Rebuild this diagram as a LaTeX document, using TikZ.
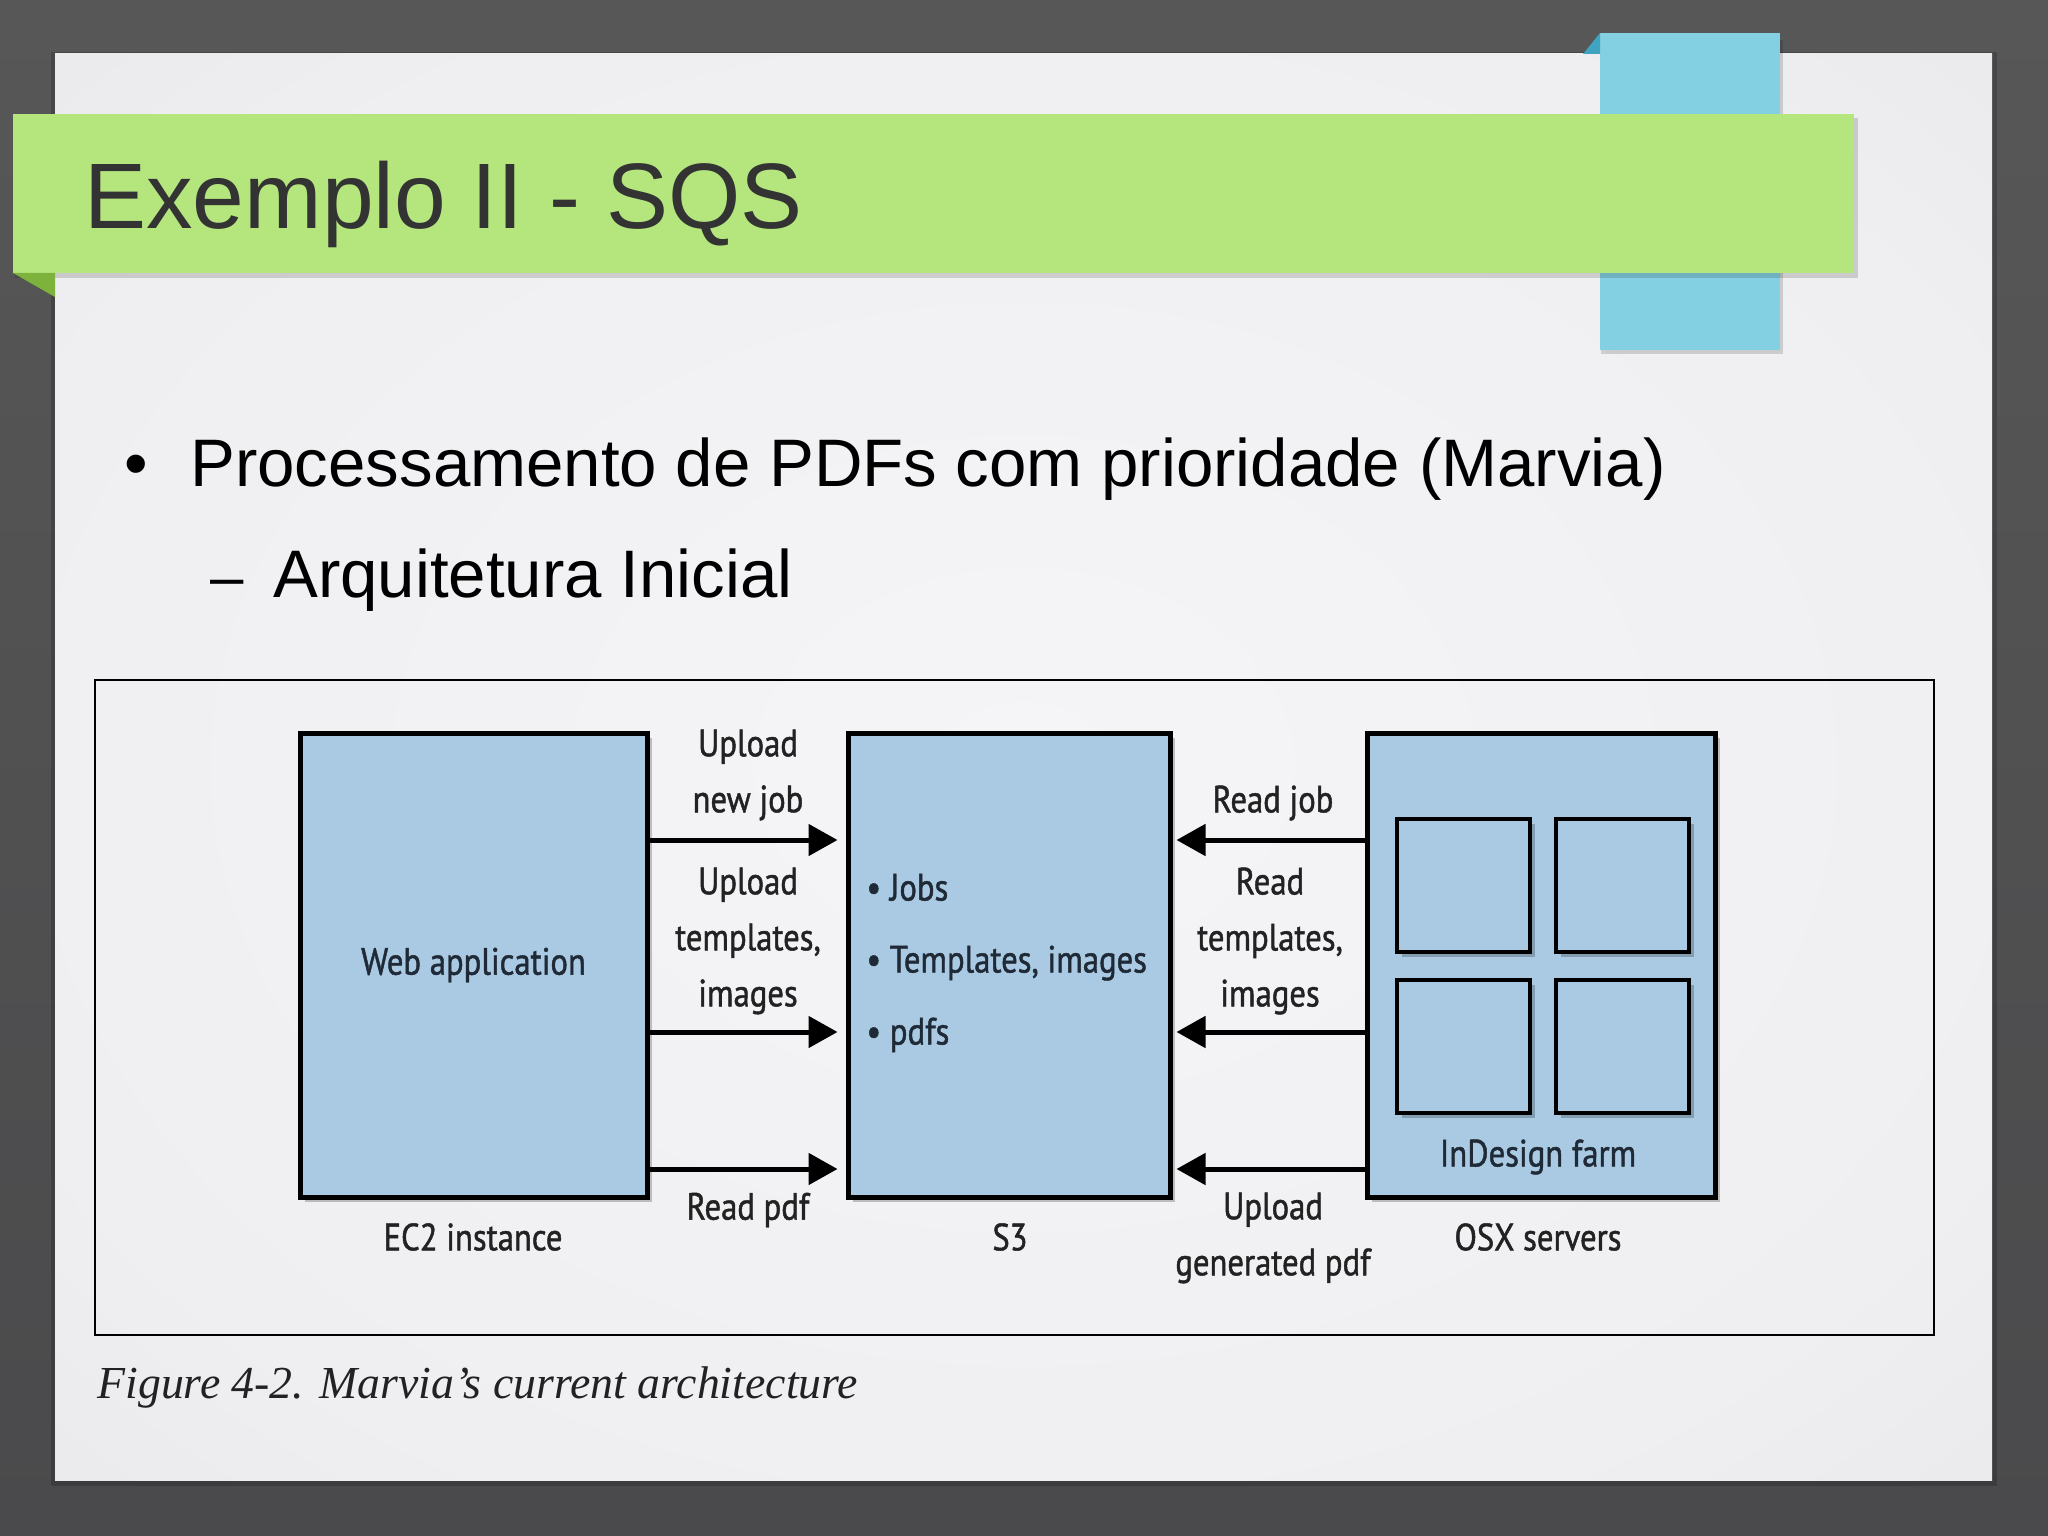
\documentclass[tikz,border=0pt]{standalone}
\usepackage{fontspec}
\setmainfont{Liberation Sans}
\newfontfamily\dfont[FakeStretch=0.86,FakeBold=1.2]{PT Sans}
\newfontfamily\capfont{Liberation Serif}
\usetikzlibrary{arrows.meta,shadows}
\definecolor{bgtop}{HTML}{575757}
\definecolor{bgbot}{HTML}{4A4A4C}
\definecolor{slc}{HTML}{F5F4F7}
\definecolor{slm}{HTML}{EFEEF1}
\definecolor{sle}{HTML}{E2E2E3}
\definecolor{bannergreen}{HTML}{B5E67E}
\definecolor{folddark}{HTML}{7DB23C}
\definecolor{tabblue}{HTML}{83D0E2}
\definecolor{tabdark}{HTML}{3FA4C0}
\definecolor{titlegray}{HTML}{333333}
\definecolor{boxblue}{HTML}{A9CAE2}
\definecolor{boxtext}{HTML}{1F2A36}
\definecolor{lbl}{HTML}{222222}
\pgfdeclareradialshading{slidebg}{\pgfpoint{0bp}{0bp}}{color(0bp)=(slc); color(28bp)=(slm); color(50bp)=(sle)}
\tikzset{
  box/.style={draw=black, line width=2.5pt, fill=boxblue, inner sep=0pt,
    drop shadow={shadow xshift=2.5pt, shadow yshift=-2.5pt, opacity=0.22, fill=black}},
  srv/.style={draw=black, line width=2pt, fill=boxblue, inner sep=0pt,
    minimum width=66.5pt, minimum height=66.5pt,
    drop shadow={shadow xshift=2.5pt, shadow yshift=-2.5pt, opacity=0.22, fill=black}},
  dtxt/.style={font=\dfont\fontsize{19pt}{28pt}\selectfont, text=lbl, align=center, inner sep=0pt},
  btxt/.style={font=\dfont\fontsize{19pt}{28pt}\selectfont, text=boxtext, align=center, inner sep=0pt},
  arr/.style={line width=2.5pt, draw=black, -{Triangle[length=14.5pt,width=15.5pt]}},
  slidetxt/.style={anchor=base west, inner sep=0pt, font=\fontsize{33.6pt}{40pt}\selectfont},
}
\begin{document}
\begin{tikzpicture}[x=0.5pt,y=-0.5pt]
\useasboundingbox (0,0) rectangle (2048,1535);
% outer background
\fill[top color=bgtop, bottom color=bgbot] (0,0) rectangle (2048,1535);
% slide
\fill[black, opacity=0.18] (51,52) rectangle (1997,1486);
\shade[shading=slidebg] (55,54) rectangle (1992,1480);
% blue tab
\fill[black, opacity=0.15] (1601,40) rectangle (1783,354);
\fill[tabblue] (1600,33) rectangle (1780,350);
\fill[tabdark] (1600,33) -- (1600,54) -- (1583,54) -- cycle;
% green banner
\fill[black, opacity=0.15] (15,118) rectangle (1858,278);
\fill[bannergreen] (13,114) rectangle (1854,273);
\fill[folddark] (13,273) -- (55,273) -- (55,297) -- cycle;
\node[anchor=base west, inner sep=0pt, text=titlegray,
  font=\fontsize{46.5pt}{56pt}\selectfont] (title) at (84,229) {Exemplo II - SQS};
% bullets
\node[slidetxt] (b1) at (124,486) {•};
\node[slidetxt] (t1) at (190,486) {Processamento de PDFs com prioridade (Marvia)};
\node[slidetxt, font=\fontsize{30pt}{36pt}\selectfont] (b2) at (210,597) {–};
\node[slidetxt] (t2) at (273,597) {Arquitetura Inicial};
% figure frame
\draw[line width=1pt] (95,680) rectangle (1934,1335);
\node[anchor=base west, inner sep=0pt, text=lbl,
  font=\capfont\itshape\fontsize{22.9pt}{27pt}\selectfont] (cap) at (97,1398)
  {Figure 4-2. Marvia’s current architecture};
% boxes
\node[box, minimum width=173.5pt, minimum height=232pt, btxt] (web) at (473.5,965) {Web application};
\node[box, minimum width=161pt, minimum height=232pt] (s3) at (1009,965) {};
\node[box, minimum width=174pt, minimum height=232pt] (osx) at (1541,965) {};
\node[srv] (q1) at (1463.5,885.5) {};
\node[srv] (q2) at (1622.5,885.5) {};
\node[srv] (q3) at (1463.5,1046) {};
\node[srv] (q4) at (1622.5,1046) {};
\node[btxt, align=left, anchor=west, font=\dfont\fontsize{19pt}{36pt}\selectfont] (list) at (866,963)
  {• Jobs\\ • Templates, images\\ • pdfs};
\node[btxt] (farm) at (1538,1157) {InDesign farm};
% captions under boxes
\node[dtxt] (ec2) at (473,1237) {EC2 instance};
\node[dtxt] (s3l) at (1010,1237) {S3};
\node[dtxt] (osxl) at (1538,1237) {OSX servers};
% arrows
\coordinate (r1) at (0,840);
\coordinate (r2) at (0,1032);
\coordinate (r3) at (0,1169);
\draw[arr, shorten >=4pt] (web.east |- r1) -- (s3.west |- r1);
\draw[arr, shorten >=4pt] (web.east |- r2) -- (s3.west |- r2);
\draw[arr, shorten >=4pt] (web.east |- r3) -- (s3.west |- r3);
\draw[arr, shorten >=2pt] (osx.west |- r1) -- (s3.east |- r1);
\draw[arr, shorten >=2pt] (osx.west |- r2) -- (s3.east |- r2);
\draw[arr, shorten >=2pt] (osx.west |- r3) -- (s3.east |- r3);
% arrow labels
\node[dtxt] (l1) at (748,775) {Upload\\new job};
\node[dtxt] (l2) at (748,941) {Upload\\templates,\\images};
\node[dtxt] (l3) at (748,1210) {Read pdf};
\node[dtxt] (l4) at (1273,803) {Read job};
\node[dtxt] (l5) at (1270,941) {Read\\templates,\\images};
\node[dtxt] (l6) at (1273,1238) {Upload\\generated pdf};
\end{tikzpicture}
\end{document}
